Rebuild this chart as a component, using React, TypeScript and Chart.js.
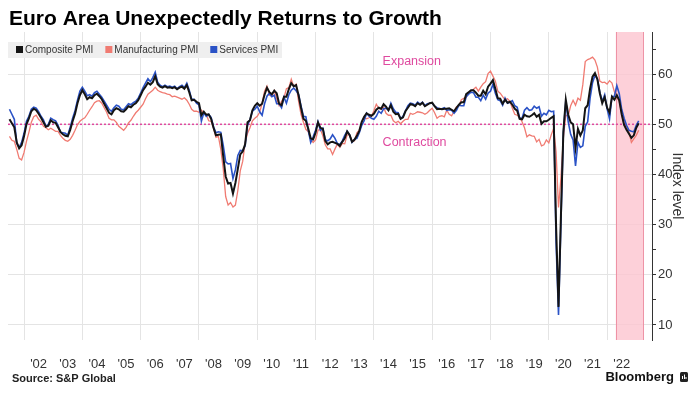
import React, { useEffect, useRef } from "react";
import { Chart, registerables } from "chart.js";

Chart.register(...registerables);

// ---- Data (monthly, first value = June 2001, last = January 2023) ----
const START_YEAR = 2001;
const START_MONTH = 6;

const composite = [
  51.0, 50.2, 49.4, 46.4, 45.2, 45.8, 47.6,
  50.0, 51.2, 52.6, 53.1, 52.8, 52.1, 51.3, 50.4, 49.5, 49.7, 50.8, 50.4,
  50.3, 49.4, 48.5, 48.0, 47.7, 47.6, 48.9, 50.6, 52.1, 54.2, 55.8, 56.8,
  56.0, 55.0, 55.4, 55.2, 55.8, 56.1, 55.6, 55.0, 54.1, 53.2, 52.3, 52.0,
  52.8, 53.2, 53.0, 52.6, 52.5, 53.0, 53.6, 53.4, 53.9, 54.2, 54.8, 55.8,
  56.8, 57.5, 58.3, 57.9, 58.4, 59.6, 58.0, 57.5, 57.3, 57.6, 57.3, 57.4,
  57.2, 57.4, 57.0, 57.3, 57.5, 57.1, 57.8, 56.4, 54.8, 54.9, 54.5, 54.2,
  51.8, 52.5, 51.9, 52.0, 51.1, 49.3, 47.8, 47.9, 48.0, 43.6, 39.6, 38.2,
  38.3, 36.2, 38.3, 41.1, 44.0, 44.6, 46.0, 50.4, 50.8, 52.8, 53.7, 54.2,
  53.7, 54.1, 55.9, 57.3, 56.4, 56.0, 56.7, 56.2, 54.1, 53.8, 55.5, 55.5,
  57.0, 58.2, 57.6, 57.8, 55.8, 53.3, 51.1, 50.7, 49.1, 47.2, 47.0, 48.3,
  50.4, 49.3, 49.1, 46.7, 46.0, 46.4, 46.5, 46.3, 46.1, 45.7, 46.5, 47.2,
  48.6, 47.9, 46.5, 46.9, 47.7, 48.7, 50.5, 51.5, 52.2, 51.9, 51.7, 52.1,
  52.9, 53.3, 53.1, 54.0, 53.5, 52.8, 53.8, 52.5, 52.0, 52.1, 51.1, 51.4,
  52.6, 53.3, 54.0, 53.9, 53.6, 54.2, 53.9, 54.3, 53.6, 53.9, 54.2, 54.3,
  53.6, 53.0, 53.1, 53.0, 53.1, 53.1, 53.2, 52.9, 52.6, 53.3, 53.9, 54.4,
  54.4, 56.0, 56.4, 56.8, 56.8, 56.3, 55.7, 55.7, 56.7, 56.0, 57.5, 58.1,
  58.8, 57.1, 55.2, 55.1, 54.1, 54.9, 54.3, 54.5, 53.9, 53.1, 52.7, 51.1,
  51.0, 51.9, 51.6, 51.5, 51.8, 52.2, 51.5, 51.9, 50.1, 50.6, 50.6, 50.9,
  51.3, 51.6, 29.7, 13.6, 31.9, 48.5, 54.9, 51.9, 50.4, 50.0, 45.3, 49.1,
  47.8, 48.8, 53.2, 53.8, 57.1, 59.5, 60.2, 59.0, 56.2, 54.2, 55.4, 53.3,
  52.3, 55.5, 54.9, 55.8, 54.8, 52.0, 49.9, 48.9, 48.1, 47.3, 47.8, 49.3,
  50.2,
];

const manufacturing = [
  47.6, 46.8, 46.6, 45.0, 43.2, 42.9, 44.4,
  46.6, 48.4, 50.4, 51.5, 51.8, 51.0, 50.5, 49.6, 49.3, 48.9, 49.2, 48.9,
  48.6, 48.6, 47.8, 47.2, 46.8, 46.6, 47.0, 47.8, 48.8, 49.9, 50.6, 51.0,
  51.3, 52.0, 52.8, 53.5, 54.3, 54.6, 54.7, 54.2, 53.3, 52.4, 51.2, 50.9,
  50.9, 50.4, 49.6, 49.2, 48.8, 49.4, 50.3, 50.8, 51.6, 52.3, 52.8, 53.4,
  54.0, 55.1, 56.0, 56.4, 56.8, 57.4, 56.8, 56.5, 56.3, 56.2, 56.0, 55.9,
  55.5, 55.6, 55.4, 55.2, 55.0, 55.3, 54.8, 54.0, 53.0, 52.6, 52.6, 52.4,
  52.8, 52.3, 52.0, 50.7, 50.6, 49.2, 47.4, 47.6, 45.0, 41.1, 35.6, 33.9,
  34.4, 33.5, 33.9, 36.8, 40.7, 42.6, 46.3, 48.2, 49.3, 50.7, 51.2, 51.6,
  52.4, 54.2, 56.6, 57.6, 55.8, 55.6, 56.7, 55.1, 53.7, 54.6, 55.3, 57.1,
  57.3, 59.0, 57.5, 58.0, 54.6, 52.0, 50.4, 49.0, 48.5, 47.1, 46.4, 46.9,
  48.8, 49.0, 47.7, 45.9, 45.1, 45.1, 44.0, 45.1, 46.1, 45.4, 46.2, 46.1,
  47.9, 47.9, 46.8, 46.7, 48.3, 48.8, 50.3, 51.4, 51.1, 51.3, 51.6, 52.7,
  54.0, 53.2, 53.0, 53.4, 52.2, 51.8, 51.8, 50.7, 50.3, 50.6, 50.1, 50.6,
  51.0, 51.0, 52.2, 52.0, 52.2, 52.5, 52.4, 52.3, 52.0, 52.3, 52.8, 53.2,
  52.3, 51.2, 51.6, 51.7, 51.5, 52.8, 52.0, 51.7, 52.6, 53.5, 53.7, 54.9,
  55.2, 55.4, 56.2, 56.7, 57.0, 57.4, 56.6, 57.4, 58.1, 58.5, 60.1, 60.6,
  59.6, 58.6, 56.6, 56.2, 55.5, 54.9, 55.1, 54.6, 53.2, 52.0, 51.8, 51.4,
  50.5, 49.3, 47.5, 47.9, 47.7, 47.6, 46.5, 47.0, 45.7, 45.9, 46.9, 46.3,
  47.9, 49.2, 44.5, 33.4, 39.4, 47.4, 51.8, 51.7, 53.7, 54.8, 53.8, 55.2,
  54.8, 57.9, 62.5, 62.9, 63.1, 63.4, 62.8, 61.4, 58.6, 58.3, 58.4, 58.0,
  58.7, 58.2, 56.5, 55.5, 54.6, 52.1, 49.8, 49.6, 48.4, 46.4, 47.1, 47.8,
  48.8,
];

const services = [
  53.0, 52.0, 51.0, 46.2, 45.4, 46.4, 48.2,
  50.6, 51.6, 53.0, 53.4, 53.2, 52.5, 51.6, 50.9, 49.6, 50.0, 51.2, 50.9,
  50.7, 49.8, 48.4, 48.3, 48.2, 47.8, 49.4, 51.2, 52.7, 54.8, 56.6, 57.4,
  56.6, 55.7, 55.9, 55.6, 56.3, 56.6, 56.0, 55.4, 54.6, 53.8, 53.0, 52.6,
  53.3, 53.8, 53.6, 53.0, 52.9, 53.5, 54.1, 53.9, 54.3, 54.6, 55.2, 56.2,
  57.3, 58.2, 59.1, 58.5, 59.3, 60.4, 58.4, 57.8, 57.5, 57.8, 57.5, 57.6,
  57.4, 57.6, 57.1, 57.5, 57.8, 57.3, 58.2, 56.8, 55.0, 55.0, 54.2, 53.9,
  50.6, 52.3, 51.6, 52.0, 51.4, 49.5, 48.3, 48.5, 48.4, 45.8, 42.5, 42.1,
  42.2, 39.2, 40.9, 43.8, 44.8, 44.7, 45.7, 49.9, 50.9, 52.6, 53.0, 53.6,
  52.5, 51.8, 54.1, 55.6, 56.2, 55.5, 55.8, 54.1, 54.1, 53.3, 55.4, 54.2,
  55.9, 56.8, 57.2, 56.7, 56.0, 53.7, 51.6, 51.5, 48.8, 46.4, 47.5, 48.8,
  50.5, 48.8, 49.2, 46.9, 46.7, 47.1, 47.9, 47.2, 46.1, 46.0, 46.7, 47.8,
  48.6, 47.9, 46.4, 47.0, 47.2, 48.3, 49.8, 50.7, 52.2, 51.6, 51.2, 51.0,
  51.6, 52.6, 52.2, 53.1, 53.2, 52.8, 54.2, 53.1, 52.4, 52.3, 51.1, 51.6,
  52.7, 53.7, 54.2, 54.1, 53.8, 54.4, 54.0, 54.4, 53.7, 54.1, 54.2, 54.2,
  53.6, 53.3, 53.1, 53.1, 53.3, 52.8, 52.9, 52.8, 52.2, 52.8, 53.8, 53.7,
  53.7, 55.5, 56.0, 56.4, 56.3, 55.4, 55.4, 54.7, 55.8, 55.0, 56.2, 56.6,
  58.0, 56.2, 54.9, 54.7, 53.8, 55.2, 54.2, 54.4, 54.7, 53.7, 53.4, 51.2,
  51.2, 52.8, 53.3, 52.8, 52.9, 53.6, 53.2, 53.5, 51.6, 52.2, 51.9, 52.8,
  52.5, 52.6, 26.4, 12.0, 30.5, 48.3, 54.7, 50.5, 48.0, 46.9, 41.7, 46.4,
  45.4, 45.7, 49.6, 50.5, 55.2, 58.3, 59.8, 59.0, 56.4, 54.6, 55.9, 53.1,
  51.1, 55.5, 55.6, 57.7, 56.1, 53.0, 51.2, 49.8, 48.8, 48.6, 48.5, 49.8,
  50.7,
];

const seriesNames = ["Composite PMI", "Manufacturing PMI", "Services PMI"];
const seriesColors = ["#141414", "#f07b72", "#2a52c6"];
const seriesWidths = [2, 1.3, 1.6];
const seriesOrder = [0, 2, 1];

const yearLabels = [
  "'02", "'03", "'04", "'05", "'06", "'07", "'08", "'09", "'10", "'11", "'12",
  "'13", "'14", "'15", "'16", "'17", "'18", "'19", "'20", "'21", "'22",
];
const FIRST_LABEL_YEAR = 2002;
const yTickValues = [10, 15, 20, 25, 30, 35, 40, 45, 50, 55, 60, 65];

const shadeRange = [2022.3, 2023.26];
const thresholdValue = 50;
const expansionNote = { text: "Expansion", x: 2014.3, y: 62.6 };
const contractionNote = { text: "Contraction", x: 2014.3, y: 46.4 };

const titleText = "Euro Area Unexpectedly Returns to Growth";
const sourceText = "Source: S&P Global";
const brandText = "Bloomberg";
const axisTitle = "Index level";

const FONT = '"Liberation Sans", Arial, sans-serif';
const PINK = "#df4a9f";

const toPoints = (arr: number[]) =>
  arr.map((v, i) => ({ x: START_YEAR + (START_MONTH + i) / 12, y: v }));

const xTickValues: number[] = [];
for (let yr = FIRST_LABEL_YEAR; yr < FIRST_LABEL_YEAR + yearLabels.length; yr++) {
  xTickValues.push(yr);
  xTickValues.push(yr + 0.5);
}

const decorPlugin = {
  id: "decor",
  beforeDatasetsDraw(chart: any) {
    const { ctx, chartArea: ca, scales } = chart;
    const x = scales.x;
    const y = scales.y;
    ctx.save();
    // shaded period
    const x0 = x.getPixelForValue(shadeRange[0]);
    const x1 = x.getPixelForValue(shadeRange[1]);
    ctx.fillStyle = "rgba(252, 196, 208, 0.8)";
    ctx.fillRect(x0, ca.top, x1 - x0, ca.bottom - ca.top);
    ctx.strokeStyle = "rgba(236, 140, 160, 0.9)";
    ctx.lineWidth = 1;
    ctx.beginPath();
    ctx.moveTo(Math.round(x0) + 0.5, ca.top);
    ctx.lineTo(Math.round(x0) + 0.5, ca.bottom);
    ctx.moveTo(Math.round(x1) - 0.5, ca.top);
    ctx.lineTo(Math.round(x1) - 0.5, ca.bottom);
    ctx.stroke();
    // threshold line
    const y50 = y.getPixelForValue(thresholdValue);
    ctx.setLineDash([2, 2]);
    ctx.strokeStyle = PINK;
    ctx.lineWidth = 1.5;
    ctx.beginPath();
    ctx.moveTo(ca.left, y50);
    ctx.lineTo(ca.right, y50);
    ctx.stroke();
    ctx.setLineDash([]);
    // notes
    ctx.font = `12.5px ${FONT}`;
    ctx.fillStyle = PINK;
    ctx.textAlign = "left";
    ctx.textBaseline = "middle";
    for (const n of [expansionNote, contractionNote]) {
      ctx.fillText(n.text, x.getPixelForValue(n.x), y.getPixelForValue(n.y));
    }
    ctx.restore();
  },
  afterDraw(chart: any) {
    const { ctx } = chart;
    ctx.save();
    // title
    ctx.fillStyle = "#000";
    ctx.font = `bold 21px ${FONT}`;
    ctx.textAlign = "left";
    ctx.textBaseline = "alphabetic";
    ctx.fillText(titleText, 9, 25);
    // legend
    ctx.fillStyle = "#efefef";
    ctx.fillRect(8, 42, 274, 16);
    ctx.font = `10px ${FONT}`;
    ctx.textBaseline = "middle";
    let lx = 16;
    const ly = 50;
    seriesNames.forEach((name, i) => {
      ctx.fillStyle = seriesColors[i];
      ctx.fillRect(lx, ly - 4, 7, 7);
      ctx.fillStyle = "#333";
      ctx.fillText(name, lx + 9, ly);
      lx += 9 + ctx.measureText(name).width + 12;
    });
    // footer
    ctx.fillStyle = "#222";
    ctx.font = `bold 11px ${FONT}`;
    ctx.textBaseline = "alphabetic";
    ctx.fillText(sourceText, 12, 382);
    ctx.font = `bold 13px ${FONT}`;
    ctx.textAlign = "right";
    ctx.fillStyle = "#111";
    ctx.fillText(brandText, 674, 381);
    // logo mark
    ctx.fillStyle = "#222";
    ctx.beginPath();
    ctx.roundRect(680, 372, 8, 10, 1.5);
    ctx.fill();
    ctx.strokeStyle = "#fff";
    ctx.lineWidth = 1;
    ctx.beginPath();
    ctx.moveTo(682.5, 379);
    ctx.lineTo(682.5, 376);
    ctx.moveTo(684.5, 379);
    ctx.lineTo(684.5, 374.5);
    ctx.moveTo(686, 379);
    ctx.lineTo(686, 377);
    ctx.stroke();
    ctx.restore();
  },
};

export default function App() {
  const canvasRef = useRef<HTMLCanvasElement | null>(null);

  useEffect(() => {
    const canvas = canvasRef.current;
    if (!canvas) return;
    Chart.defaults.font.family = FONT;
    const seriesData = [composite, manufacturing, services];
    const chart = new Chart(canvas, {
      type: "line",
      data: {
        datasets: seriesData.map((arr, i) => ({
          label: seriesNames[i],
          data: toPoints(arr),
          borderColor: seriesColors[i],
          backgroundColor: seriesColors[i],
          borderWidth: seriesWidths[i],
          pointRadius: 0,
          tension: 0,
          fill: false,
          order: seriesOrder[i],
        })),
      },
      options: {
        responsive: false,
        animation: false,
        events: [],
        layout: { padding: { left: 8, top: 32, right: 0, bottom: 29 } },
        plugins: {
          legend: { display: false },
          title: { display: false },
          tooltip: { enabled: false },
        },
        scales: {
          x: {
            type: "linear",
            min: 2001.45,
            max: 2023.54,
            afterBuildTicks: (s: any) => {
              s.ticks = xTickValues.map((v) => ({ value: v }));
            },
            afterFit: (s: any) => {
              s.height = 30;
            },
            grid: {
              drawTicks: false,
              tickLength: 0,
              color: (c: any) => {
                const v = c.tick ? c.tick.value : NaN;
                return Number.isInteger(v) && v % 2 === 0 ? "#e4e4e4" : "rgba(0,0,0,0)";
              },
            },
            border: { display: false },
            ticks: {
              autoSkip: false,
              maxRotation: 0,
              minRotation: 0,
              padding: 17,
              color: "#333",
              font: { size: 13, family: FONT },
              callback: (v: any) => {
                const n = Number(v);
                const frac = n - Math.floor(n);
                if (Math.abs(frac - 0.5) < 1e-6) {
                  return yearLabels[Math.floor(n) - FIRST_LABEL_YEAR] ?? "";
                }
                return "";
              },
            },
          },
          y: {
            type: "linear",
            position: "right",
            min: 7,
            max: 68.4,
            afterBuildTicks: (s: any) => {
              s.ticks = yTickValues.map((v) => ({ value: v }));
            },
            afterFit: (s: any) => {
              s.width = 45;
            },
            grid: {
              color: (c: any) => {
                const v = c.tick ? c.tick.value : NaN;
                return v % 10 === 0 ? "#e4e4e4" : "rgba(0,0,0,0)";
              },
              tickColor: "#333",
              tickLength: 4,
              drawTicks: true,
            },
            border: { display: true, color: "#333", width: 1 },
            ticks: {
              autoSkip: false,
              padding: 2,
              color: "#333",
              font: { size: 13, family: FONT },
              callback: (v: any) => (Number(v) % 10 === 0 ? String(v) : ""),
            },
            title: {
              display: true,
              text: axisTitle,
              color: "#333",
              font: { size: 14, family: FONT },
              padding: { top: 12, bottom: 0 },
            },
          },
        },
      },
      plugins: [decorPlugin],
    } as any);
    return () => chart.destroy();
  }, []);

  return (
    <canvas
      ref={canvasRef}
      width={697}
      height={399}
      style={{ position: "fixed", left: 0, top: 0, width: 697, height: 399, background: "#fff" }}
    />
  );
}
